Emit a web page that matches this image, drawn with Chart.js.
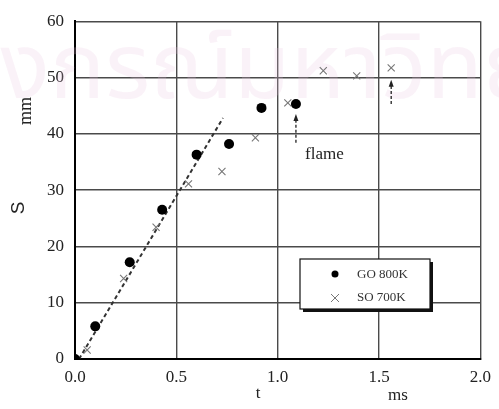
<!DOCTYPE html>
<html>
<head>
<meta charset="utf-8">
<script src="https://cdn.jsdelivr.net/npm/chart.js@4/dist/chart.umd.min.js"></script>
<style>
  html, body { margin: 0; padding: 0; background: #fff; }
  #wrap { width: 499px; height: 409px; position: relative; }
</style>
</head>
<body>
<div id="wrap"><canvas id="c"></canvas></div>
<script>
// Flame displacement S (mm) against time t (ms)
const goTime = [0, 0.10, 0.27, 0.43, 0.60, 0.76, 0.92, 1.09];
const goS    = [0, 5.8, 17.2, 26.5, 36.3, 38.2, 44.6, 45.3];
const soTime = [0.06, 0.24, 0.40, 0.56, 0.725, 0.89, 1.05, 1.225, 1.39, 1.56];
const soS    = [1.6, 14.3, 23.4, 31.1, 33.3, 39.3, 45.5, 51.2, 50.3, 51.7];
// straight-line fit through the early points
const fitTime = [0.02, 0.73];
const fitS    = [0, 42.8];
// flame arrival markers (arrows)
const flameTime = [1.09, 1.56];
const flameFrom = [38.4, 45.3];
const flameTo   = [43.5, 49.6];
const seriesNames = ['GO 800K', 'SO 700K'];
const xTicks = [0, 0.5, 1.0, 1.5, 2.0];
const yTicks = [0, 10, 20, 30, 40, 50, 60];
const flameLabel = 'flame';
const watermark = 'ลงกรณ์มหาวิทยาลัย';

const SERIF = '"Liberation Serif", "DejaVu Serif", serif';

const pts = (xs, ys) => xs.map((x, i) => ({ x: x, y: ys[i] }));

const decor = {
  id: 'decor',
  beforeDatasetsDraw(chart) {
    // faint background watermark
    const ctx = chart.ctx;
    ctx.save();
    ctx.fillStyle = 'rgba(230, 195, 222, 0.22)';
    ctx.font = '92px "Noto Sans Thai", "Loma", "Garuda", "DejaVu Sans", sans-serif';
    ctx.textBaseline = 'alphabetic';
    ctx.fillText(watermark, -52, 98);
    ctx.restore();
  },
  afterDatasetsDraw(chart) {
    const ctx = chart.ctx;
    const xs = chart.scales.x, ys = chart.scales.y;
    ctx.save();
    // flame arrows
    ctx.strokeStyle = '#222';
    ctx.fillStyle = '#222';
    ctx.lineWidth = 1.3;
    flameTime.forEach((t, i) => {
      const px = xs.getPixelForValue(t);
      const y0 = ys.getPixelForValue(flameFrom[i]);
      const y1 = ys.getPixelForValue(flameTo[i]);
      ctx.setLineDash([3, 2]);
      ctx.beginPath(); ctx.moveTo(px, y0); ctx.lineTo(px, y1 + 4); ctx.stroke();
      ctx.setLineDash([]);
      ctx.beginPath();
      ctx.moveTo(px, y1); ctx.lineTo(px - 2.5, y1 + 7); ctx.lineTo(px + 2.5, y1 + 7);
      ctx.closePath(); ctx.fill();
    });
    ctx.font = '17px ' + SERIF;
    ctx.fillStyle = '#222';
    ctx.textAlign = 'left';
    ctx.textBaseline = 'middle';
    ctx.fillText(flameLabel, xs.getPixelForValue(1.135), ys.getPixelForValue(36.3));

    // legend box with drop shadow
    const bx = 300, by = 259, bw = 130, bh = 50;
    ctx.fillStyle = '#111';
    ctx.fillRect(bx + 3, by + 3, bw, bh);
    ctx.fillStyle = '#fff';
    ctx.fillRect(bx, by, bw, bh);
    ctx.strokeStyle = '#111';
    ctx.lineWidth = 1.2;
    ctx.strokeRect(bx, by, bw, bh);
    // entries
    ctx.fillStyle = '#000';
    ctx.beginPath(); ctx.arc(335, 274, 3.5, 0, Math.PI * 2); ctx.fill();
    ctx.strokeStyle = '#777';
    ctx.lineWidth = 1;
    ctx.beginPath();
    ctx.moveTo(331, 294); ctx.lineTo(339, 302);
    ctx.moveTo(339, 294); ctx.lineTo(331, 302);
    ctx.stroke();
    ctx.font = '13px ' + SERIF;
    ctx.fillStyle = '#333';
    ctx.fillText(seriesNames[0], 357, 275);
    ctx.fillText(seriesNames[1], 357, 298);

    // axis titles
    ctx.fillStyle = '#222';
    ctx.textAlign = 'center';
    ctx.font = '17px ' + SERIF;
    ctx.fillText('t', 258, 394);
    ctx.fillText('ms', 398, 396);
    ctx.save();
    ctx.translate(26, 111);
    ctx.rotate(-Math.PI / 2);
    ctx.font = '18px ' + SERIF;
    ctx.fillText('mm', 0, 0);
    ctx.restore();
    ctx.save();
    ctx.translate(19, 208);
    ctx.rotate(-Math.PI / 2);
    ctx.font = '19px "Liberation Sans", Arial, sans-serif';
    ctx.fillText('S', 0, 0);
    ctx.restore();
    ctx.restore();
  }
};

new Chart(document.getElementById('c'), {
  type: 'scatter',
  data: {
    datasets: [
      {
        label: seriesNames[0],
        data: pts(goTime, goS),
        pointStyle: 'circle',
        pointRadius: 5,
        backgroundColor: '#000',
        borderColor: '#000',
        borderWidth: 0,
        order: 1
      },
      {
        label: seriesNames[1],
        data: pts(soTime, soS),
        pointStyle: 'crossRot',
        pointRadius: 5,
        borderColor: '#777',
        borderWidth: 1.1,
        order: 2
      },
      {
        type: 'line',
        label: 'fit',
        data: pts(fitTime, fitS),
        borderColor: '#333',
        borderWidth: 2,
        borderDash: [4, 3],
        pointRadius: 0,
        fill: false,
        order: 3
      }
    ]
  },
  options: {
    responsive: true,
    maintainAspectRatio: false,
    animation: false,
    layout: { padding: { top: 20, right: 16, left: 0, bottom: 0 } },
    plugins: { legend: { display: false }, tooltip: { enabled: false } },
    scales: {
      x: {
        type: 'linear',
        min: 0, max: 2,
        afterBuildTicks: s => { s.ticks = xTicks.map(v => ({ value: v })); },
        afterFit: s => { s.height = 50; },
        ticks: {
          color: '#222',
          padding: 8,
          font: { family: SERIF, size: 17 },
          callback: v => Number(v).toFixed(1)
        },
        grid: { color: '#4a4a4a', lineWidth: 1.4, drawTicks: false },
        border: { display: true, color: '#000', width: 2 }
      },
      y: {
        type: 'linear',
        min: 0, max: 60,
        afterBuildTicks: s => { s.ticks = yTicks.map(v => ({ value: v })); },
        afterFit: s => { s.width = 75; },
        ticks: {
          color: '#222',
          padding: 11,
          font: { family: SERIF, size: 17 }
        },
        grid: { color: '#4a4a4a', lineWidth: 1.4, drawTicks: false },
        border: { display: true, color: '#000', width: 2 }
      }
    }
  },
  plugins: [decor]
});
</script>
</body>
</html>
